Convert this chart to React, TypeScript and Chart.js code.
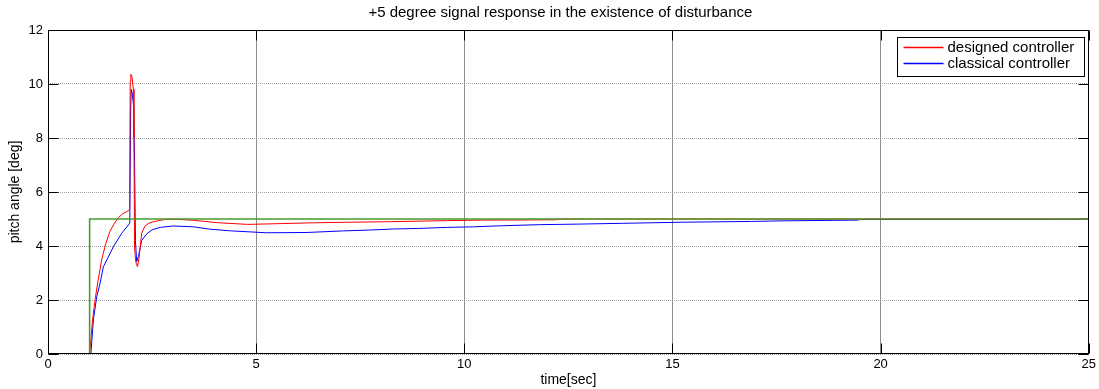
import React, { useEffect, useRef } from "react";
import { Chart, registerables } from "chart.js";

Chart.register(...registerables);

const titleText = "+5 degree signal response in the existence of disturbance";
const xAxisLabel = "time[sec]";
const yAxisLabel = "pitch angle [deg]";
const xTickValues = [0, 5, 10, 15, 20, 25];
const yTickValues = [0, 2, 4, 6, 8, 10, 12];
const seriesNames = ["designed controller", "classical controller", "reference"];

const referenceTime = [0, 1, 1, 25];
const referenceValues = [0, 0, 5, 5];

const designedTime = [
  0, 1.0, 1.07, 1.13, 1.2, 1.29, 1.39, 1.49, 1.6, 1.69, 1.8, 1.93, 1.96, 1.975, 1.99, 2.02, 2.05, 2.065,
  2.08, 2.11, 2.15, 2.19, 2.25, 2.33, 2.43, 2.53, 2.8, 3.0, 3.5, 4.1, 4.8, 5.6, 6.4, 7.2, 8.2, 9.6,
  10.5, 12.2, 12.3, 25,
];
const designedValues = [
  0, 0, 1.26, 2.0, 2.7, 3.5, 4.1, 4.55, 4.85, 5.05, 5.2, 5.3, 5.35, 10.1, 10.36, 10.25, 9.8, 8.0,
  3.9, 3.4, 3.23, 3.6, 4.47, 4.74, 4.85, 4.9, 4.98, 5.0, 4.95, 4.86, 4.8, 4.83, 4.86, 4.88, 4.9, 4.94,
  4.96, 4.97, 5.0, 5.0,
];

const classicalTime = [
  0, 1.03, 1.09, 1.17, 1.25, 1.33, 1.45, 1.57, 1.77, 1.93, 1.965, 1.985, 2.0, 2.03, 2.06, 2.08, 2.1,
  2.13, 2.17, 2.25, 2.37, 2.5, 2.7, 3.0, 3.5, 3.9, 4.4, 5.25, 6.2, 7.1, 7.7, 8.3, 8.9, 9.6, 10.2, 10.9,
  11.8, 12.7, 13.8, 15.2, 16.9, 17.6, 19.45, 19.5, 24.1, 25,
];
const classicalValues = [
  0, 0, 1.26, 2.12, 2.62, 3.23, 3.6, 3.97, 4.47, 4.78, 4.85, 9.0, 9.8, 9.6, 9.1, 7.0, 4.2,
  3.42, 3.6, 4.2, 4.45, 4.6, 4.69, 4.74, 4.71, 4.62, 4.56, 4.49, 4.5, 4.56, 4.59, 4.63, 4.65, 4.69, 4.71,
  4.75, 4.79, 4.81, 4.84, 4.88, 4.91, 4.93, 4.96, 4.98, 4.98, 5.0,
];

const FONT = "'Liberation Sans', Arial, Helvetica, sans-serif";

const toPoints = (xs: number[], ys: number[]) => xs.map((x, i) => ({ x, y: ys[i] }));

const decorPlugin = {
  id: "decor",
  afterDatasetsDraw(chart: any) {
    const { ctx, chartArea: a, scales } = chart;
    const L = Math.round(a.left) + 0.5;
    const R = Math.round(a.right) - 0.5;
    const T = Math.round(a.top) + 0.5;
    const B = Math.round(a.bottom) - 0.5;
    ctx.save();
    ctx.strokeStyle = "#000";
    ctx.lineWidth = 1;
    ctx.beginPath();
    xTickValues.forEach((v) => {
      const px = Math.round(scales.x.getPixelForValue(v)) + 0.5;
      ctx.moveTo(px, B);
      ctx.lineTo(px, B - 10);
      ctx.moveTo(px, T);
      ctx.lineTo(px, T + 10);
    });
    yTickValues.forEach((v) => {
      const py = Math.round(scales.y.getPixelForValue(v)) + 0.5;
      ctx.moveTo(L, py);
      ctx.lineTo(L + 10, py);
      ctx.moveTo(R, py);
      ctx.lineTo(R - 10, py);
    });
    ctx.stroke();
    ctx.strokeRect(L, T, R - L, B - T);

    ctx.fillStyle = "#000";
    ctx.font = `15px ${FONT}`;
    ctx.textAlign = "center";
    ctx.textBaseline = "middle";
    ctx.fillText(titleText, (a.left + a.right) / 2 - 8, 13);

    const boxW = 187;
    const boxH = 39;
    const bx = Math.round(a.right - 5 - boxW) + 0.5;
    const by = Math.round(a.top + 7) + 0.5;
    ctx.fillStyle = "#fff";
    ctx.fillRect(bx, by, boxW, boxH);
    ctx.strokeStyle = "#000";
    ctx.strokeRect(bx, by, boxW, boxH);
    const items = chart.data.datasets.slice(0, 2);
    ctx.textAlign = "left";
    ctx.font = `15px ${FONT}`;
    items.forEach((ds: any, i: number) => {
      const ly = by + 10 + i * 16;
      ctx.strokeStyle = ds.borderColor;
      ctx.lineWidth = 1.5;
      ctx.beginPath();
      ctx.moveTo(bx + 6, ly);
      ctx.lineTo(bx + 46, ly);
      ctx.stroke();
      ctx.fillStyle = "#000";
      ctx.fillText(ds.label, bx + 50, ly);
    });
    ctx.restore();
  },
};

export default function App() {
  const canvasRef = useRef<HTMLCanvasElement | null>(null);

  useEffect(() => {
    const canvas = canvasRef.current;
    if (!canvas) return;
    const chart = new Chart(canvas, {
      type: "line",
      data: {
        datasets: [
          {
            label: seriesNames[0],
            data: toPoints(designedTime, designedValues),
            borderColor: "#ff0000",
            borderWidth: 1,
            pointRadius: 0,
            tension: 0,
            order: 2,
          },
          {
            label: seriesNames[1],
            data: toPoints(classicalTime, classicalValues),
            borderColor: "#0000ff",
            borderWidth: 1,
            pointRadius: 0,
            tension: 0,
            order: 3,
          },
          {
            label: seriesNames[2],
            data: toPoints(referenceTime, referenceValues),
            borderColor: "#4a9a2e",
            borderWidth: 1.6,
            pointRadius: 0,
            tension: 0,
            order: 1,
          },
        ],
      },
      options: {
        animation: false,
        responsive: false,
        devicePixelRatio: 1,
        layout: { padding: { left: 0, right: 10, top: 30, bottom: 0 } },
        plugins: {
          legend: { display: false },
          title: { display: false },
          tooltip: { enabled: false },
        },
        scales: {
          x: {
            type: "linear",
            min: 0,
            max: 25,
            afterBuildTicks: (s: any) => {
              s.ticks = xTickValues.map((v) => ({ value: v }));
            },
            afterFit: (s: any) => {
              s.height = 35;
            },
            ticks: {
              color: "#000",
              font: { family: FONT, size: 13 },
              padding: 3,
              maxRotation: 0,
              autoSkip: false,
            },
            grid: { color: "#8c8c8c", lineWidth: 1, drawTicks: false },
            border: { display: false },
            title: {
              display: true,
              text: xAxisLabel,
              color: "#000",
              font: { family: FONT, size: 14 },
              padding: { top: 0, bottom: 0 },
            },
          },
          y: {
            type: "linear",
            min: 0,
            max: 12,
            afterBuildTicks: (s: any) => {
              s.ticks = yTickValues.map((v) => ({ value: v }));
            },
            afterFit: (s: any) => {
              s.width = 48;
            },
            ticks: {
              color: "#000",
              font: { family: FONT, size: 13 },
              padding: 5,
              autoSkip: false,
            },
            grid: { color: "#a0a0a0", lineWidth: 1, drawTicks: false },
            border: { display: false, dash: [1, 1] },
            title: {
              display: true,
              text: yAxisLabel,
              color: "#000",
              font: { family: FONT, size: 14 },
              padding: { top: 7, bottom: 0 },
            },
          },
        },
      },
      plugins: [decorPlugin],
    });
    return () => chart.destroy();
  }, []);

  return (
    <div style={{ position: "absolute", left: 0, top: 0, width: 1099, height: 389, background: "#fff" }}>
      <canvas ref={canvasRef} width={1099} height={389} />
    </div>
  );
}
